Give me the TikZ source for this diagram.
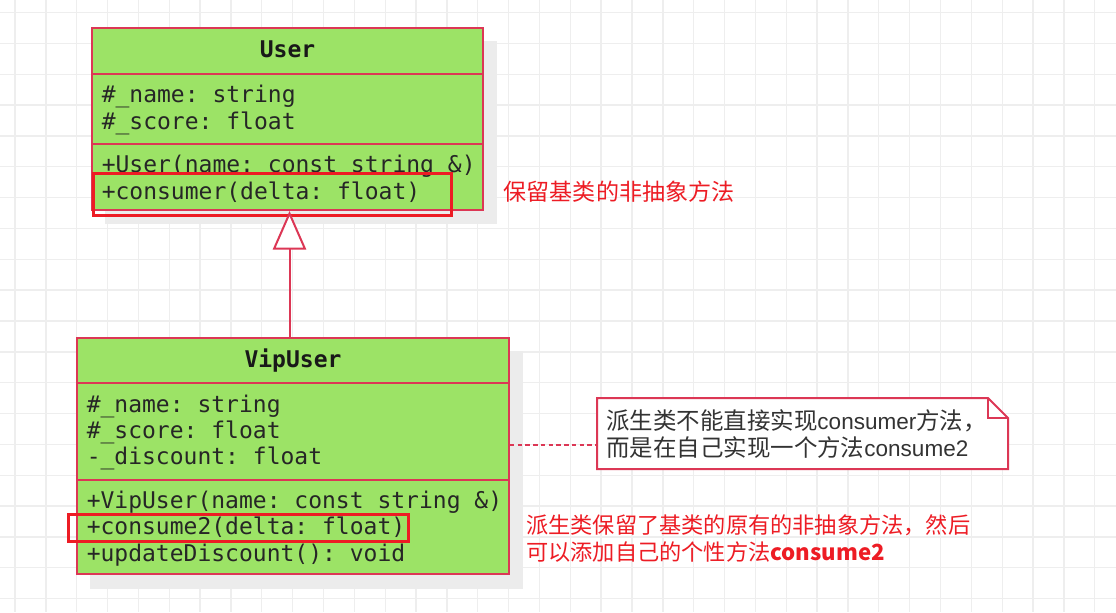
\documentclass[tikz,border=0pt]{standalone}
\usepackage{fontspec}
\setmonofont{DejaVu Sans Mono}
\newfontfamily\cjk{Noto Sans CJK SC}
\newfontfamily\notelatin[Scale=0.96]{Liberation Sans}
\usetikzlibrary{arrows.meta,fit}
\definecolor{umlfill}{RGB}{156,227,102}
\definecolor{umlline}{RGB}{220,55,85}
\definecolor{hl}{RGB}{237,28,36}
\definecolor{gridc}{RGB}{238,238,238}
\definecolor{shadowc}{RGB}{236,236,236}
\definecolor{notetext}{RGB}{51,51,51}
\tikzset{
  gridline/.style={gridc, line width=1pt},
  shadowbox/.style={fill=shadowc},
  classbox/.style={draw=umlline, fill=umlfill, line width=1.5pt, inner sep=0pt},
  divider/.style={draw=umlline, line width=1.5pt},
  mono/.style={inner sep=0pt, anchor=base west, text=black!85,
    font=\ttfamily\fontsize{17.25pt}{20pt}\selectfont},
  monotitle/.style={inner sep=0pt, anchor=base, text=black!90,
    font=\ttfamily\bfseries\fontsize{17.25pt}{20pt}\selectfont},
  hlbox/.style={draw=hl, line width=2.25pt},
  redlabel/.style={inner sep=0pt, anchor=base west, text=hl},
  notebox/.style={draw=umlline, fill=white, line width=1.5pt, line join=miter},
  notetxt/.style={inner sep=0pt, anchor=base west, text=notetext,
    font=\cjk\fontsize{17.6pt}{20pt}\selectfont},
  inherit/.style={draw=umlline, line width=1.5pt,
    -{Triangle[length=29pt,width=25pt,fill=white]}},
  noteconn/.style={draw=umlline, line width=1.4pt, dash pattern=on 3.3pt off 2.5pt},
}
\begin{document}
\begin{tikzpicture}[x=0.75pt,y=-0.75pt]
\useasboundingbox (0,0) rectangle (1116,612);
\fill[white] (0,0) rectangle (1116,612);
% grid
\foreach \k in {0,...,35} {\draw[gridline] ({15+\k*30.85},0) -- ({15+\k*30.85},612);}
\foreach \k in {0,...,19} {\draw[gridline] (0,{12.5+\k*30.85}) -- (1116,{12.5+\k*30.85});}
% shadows
\fill[shadowbox] (105,41) rectangle (497,224);
\fill[shadowbox] (90,351) rectangle (523,589);
% User class
\node[classbox, fit={(92,28) (483,210)}] (user) {};
\draw[divider] (user.west |- 0,74) -- (user.east |- 0,74);
\draw[divider] (user.west |- 0,144) -- (user.east |- 0,144);
\node[monotitle] (utitle) at (287.5,57.5) {User};
\node[mono] (ua1) at (101.5,102.5) {\#\_name: string};
\node[mono] (ua2) at (101.5,129.2) {\#\_score: float};
\node[mono] (um1) at (101.5,172.2) {+User(name: const string \&)};
\node[mono] (um2) at (101.5,199.5) {+consumer(delta: float)};
% VipUser class
\node[classbox, fit={(77,338) (509,574)}] (vip) {};
\draw[divider] (vip.west |- 0,383) -- (vip.east |- 0,383);
\draw[divider] (vip.west |- 0,480) -- (vip.east |- 0,480);
\node[monotitle] (vtitle) at (293,367.5) {VipUser};
\node[mono] (va1) at (86.5,412.3) {\#\_name: string};
\node[mono] (va2) at (86.5,438.5) {\#\_score: float};
\node[mono] (va3) at (86.5,464.9) {-\_discount: float};
\node[mono] (vm1) at (86.5,508.8) {+VipUser(name: const string \&)};
\node[mono] (vm2) at (86.5,534.8) {+consume2(delta: float)};
\node[mono] (vm3) at (86.5,561.2) {+updateDiscount(): void};
% highlight boxes
\draw[hlbox] (93.8,173.8) rectangle (451.8,215.2);
\draw[hlbox] (68.2,514.2) rectangle (408.5,541.8);
% inheritance
\coordinate (inh) at (289.5,0);
\draw[inherit] (vip.north -| inh) -- (user.south -| inh);
% red labels
\node[redlabel, font=\cjk\fontsize{17.3pt}{20pt}\selectfont] (lab1) at (503.5,200) {保留基类的非抽象方法};
\node[redlabel, font=\cjk\fontsize{16.65pt}{20pt}\selectfont] (lab2a) at (526,533.6) {派生类保留了基类的原有的非抽象方法，然后};
\node[redlabel, font=\cjk\fontsize{16.65pt}{20pt}\selectfont] (lab2b) at (526,560.6) {可以添加自己的个性方法{\bfseries consume2}};
% note
\node[inner sep=0pt, fit={(597,398) (1008,469)}] (note) {};
\draw[notebox] (597,398) -- (988,398) -- (1008,418) -- (1008,469) -- (597,469) -- cycle;
\draw[notebox, fill=none] (988,398) -- (988,418) -- (1008,418);
\node[notetxt] (n1) at (606,429) {派生类不能直接实现{\notelatin consumer}方法，};
\node[notetxt] (n2) at (606,456) {而是在自己实现一个方法{\notelatin consume2}};
\draw[noteconn] (vip.east |- 0,445) -- (note.west |- 0,445);
\end{tikzpicture}
\end{document}
